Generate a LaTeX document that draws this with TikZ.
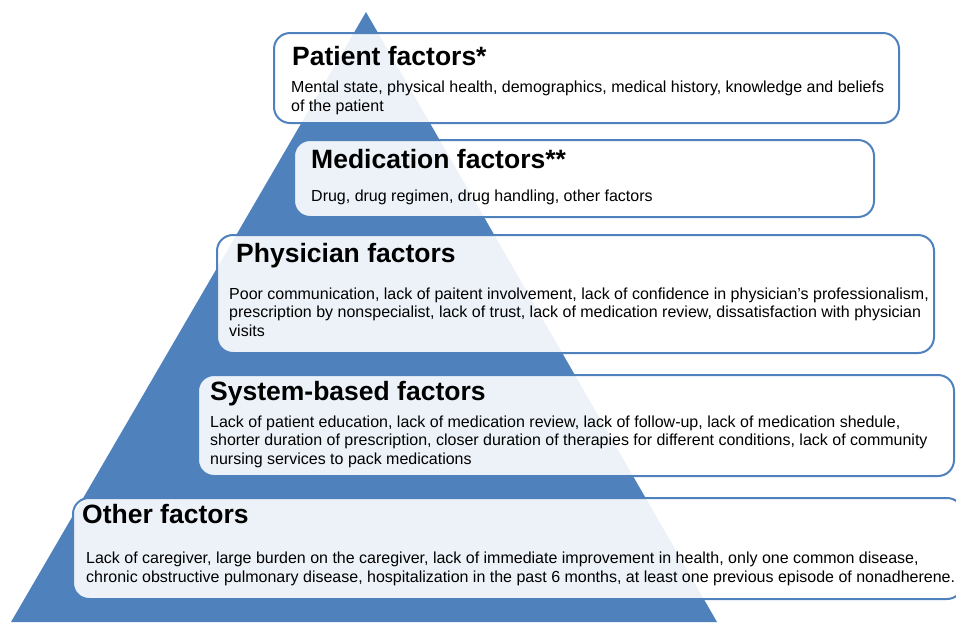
\documentclass[tikz,border=0pt]{standalone}
\usepackage{fontspec}
\setmainfont{Liberation Sans}
\usepackage{xcolor}
\definecolor{pyrblue}{RGB}{79,129,189}
\tikzstyle{factorbox}=[draw=pyrblue, line width=2pt, rounded corners=16pt, fill=white, fill opacity=0.9, inner sep=0pt, anchor=north west]
\tikzstyle{heading}=[anchor=base west, inner sep=0pt, font=\fontsize{26.5}{30}\selectfont\bfseries]
\tikzstyle{details}=[anchor=base west, inner sep=0pt, align=left, font=\fontsize{16}{18.5}\selectfont]
\newcommand{\factorbox}{\node[factorbox]}

\begin{document}
\begin{tikzpicture}[x=1pt,y=-1pt]
\useasboundingbox (0,0) rectangle (956,622);
\fill[pyrblue] (366,12) -- (717,622) -- (11,622) -- cycle;
% the five boxes, top to bottom
\factorbox[minimum width=625pt, minimum height=90pt] (pbox) at (273,32) {};
\factorbox[minimum width=580pt, minimum height=77pt] (mbox) at (293,139) {};
\factorbox[minimum width=717pt, minimum height=118pt] (phbox) at (216,234) {};
\factorbox[minimum width=756pt, minimum height=101pt] (sbox) at (197,374) {};
\factorbox[minimum width=890pt, minimum height=101pt] (obox) at (72,497) {};
% texts (multi-line texts sit on their last line)
\node[heading] (ptitle) at (292,65) {Patient factors*};
\node[details] (ptext) at (291,111) {Mental state, physical health, demographics, medical history, knowledge and beliefs\\of the patient};
\node[heading] (mtitle) at (311,168) {Medication factors**};
\node[details] (mtext) at (311,201) {Drug, drug regimen, drug handling, other factors};
\node[heading] (phtitle) at (236,262) {Physician factors};
\node[details] (phtext) at (229,336) {Poor communication, lack of paitent involvement, lack of confidence in physician’s professionalism,\\prescription by nonspecialist, lack of trust, lack of medication review, dissatisfaction with physician\\visits};
\node[heading] (stitle) at (210,400) {System-based factors};
\node[details] (stext) at (210,464) {Lack of patient education, lack of medication review, lack of follow-up, lack of medication shedule,\\shorter duration of prescription, closer duration of therapies for different conditions, lack of community\\nursing services to pack medications};
\node[heading] (otitle) at (82,523) {Other factors};
\node[details] (otext) at (86,582) {Lack of caregiver, large burden on the caregiver, lack of immediate improvement in health, only one common disease,\\chronic obstructive pulmonary disease, hospitalization in the past 6 months, at least one previous episode of nonadherene.};
\end{tikzpicture}
\end{document}
